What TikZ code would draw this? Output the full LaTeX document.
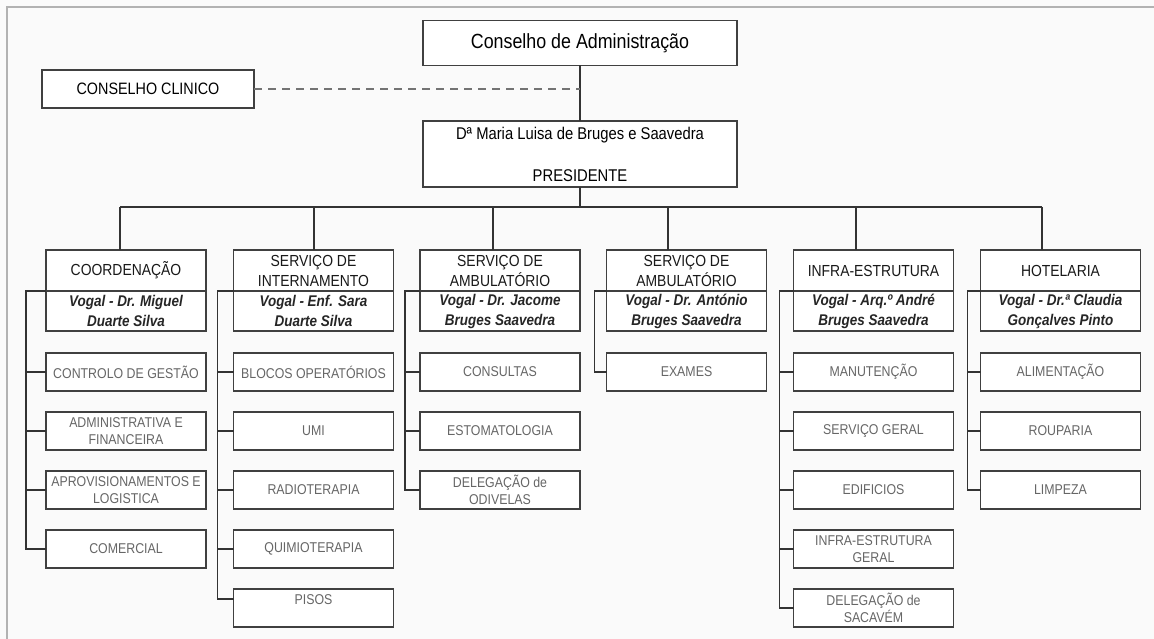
\documentclass[tikz,border=0pt]{standalone}
\usepackage{fontspec}
\setmainfont{Liberation Sans}[FakeStretch=0.87]
\usetikzlibrary{positioning}

\tikzset{
  box/.style={draw=black!75, line width=1.3pt, fill=white, inner sep=1pt, outer sep=0pt, align=center},
  headbox/.style={box, minimum width=160pt, minimum height=41pt, text=black!90, font=\fontsize{16}{20}\selectfont},
  vogalbox/.style={box, minimum width=160pt, minimum height=40pt, text=black!85, font=\fontsize{15.5}{20}\selectfont\bfseries\itshape},
  subbox/.style={box, minimum width=160pt, minimum height=38pt, text=black!60, font=\fontsize{14.2}{17.5}\selectfont},
  link/.style={draw=black!80, line width=1.6pt},
  frame/.style={draw=black!30, line width=2pt},
}

\begin{document}
\begin{tikzpicture}[x=1pt, y=-1pt]
\useasboundingbox[fill=black!2] (0,0) rectangle (1154,639);
\draw[frame] (7,639) -- (7,7) -- (1154,7);

% board and president
\node[box, minimum width=314pt, minimum height=45pt, font=\fontsize{20.5}{22}\selectfont] (cons) at (580,43) {Conselho de Administração};
\node[box, minimum width=212pt, minimum height=38pt, font=\fontsize{16.5}{18}\selectfont] (clin) at (148,89) {CONSELHO CLINICO};
\node[box, minimum width=314pt, minimum height=66pt, font=\fontsize{17}{20}\selectfont] (pres) at (580,154) {Dª Maria Luisa de Bruges e Saavedra\\[22pt]PRESIDENTE};
\coordinate (jn) at (cons.south |- clin.east);
\draw[link] (cons) -- (pres);
\draw[draw=black!55, line width=1.2pt, dash pattern=on 8pt off 6pt] (clin.east) -- (jn);

% column 1
\node[headbox, anchor=north] (h1) at (126,250) {COORDENAÇÃO};
\node[vogalbox, below=0pt of h1] (v1) {Vogal - Dr. Miguel\\Duarte Silva};
\node[subbox, below=22pt of v1] (c11) {CONTROLO DE GESTÃO};
\node[subbox, below=21pt of c11] (c12) {ADMINISTRATIVA E\\FINANCEIRA};
\node[subbox, below=21pt of c12] (c13) {APROVISIONAMENTOS E\\LOGISTICA};
\node[subbox, below=21pt of c13] (c14) {COMERCIAL};

% column 2
\node[headbox, anchor=north] (h2) at (313.5,250) {SERVIÇO DE\\INTERNAMENTO};
\node[vogalbox, below=0pt of h2] (v2) {Vogal - Enf. Sara\\Duarte Silva};
\node[subbox, below=22pt of v2] (c21) {BLOCOS OPERATÓRIOS};
\node[subbox, below=21pt of c21] (c22) {UMI};
\node[subbox, below=21pt of c22] (c23) {RADIOTERAPIA};
\node[subbox, below=21pt of c23] (c24) {QUIMIOTERAPIA};
\node[subbox, below=21pt of c24] (c25) {PISOS\\\mbox{}};

% column 3
\node[headbox, anchor=north] (h3) at (500,250) {SERVIÇO DE\\AMBULATÓRIO};
\node[vogalbox, below=0pt of h3] (v3) {Vogal - Dr. Jacome\\Bruges Saavedra};
\node[subbox, below=22pt of v3] (c31) {CONSULTAS};
\node[subbox, below=21pt of c31] (c32) {ESTOMATOLOGIA};
\node[subbox, below=21pt of c32] (c33) {DELEGAÇÃO de\\ODIVELAS};

% column 4
\node[headbox, anchor=north] (h4) at (686.5,250) {SERVIÇO DE\\AMBULATÓRIO};
\node[vogalbox, below=0pt of h4] (v4) {Vogal - Dr. António\\Bruges Saavedra};
\node[subbox, below=22pt of v4] (c41) {EXAMES};

% column 5
\node[headbox, anchor=north] (h5) at (873.5,250) {INFRA-ESTRUTURA};
\node[vogalbox, below=0pt of h5] (v5) {Vogal - Arq.º André\\Bruges Saavedra};
\node[subbox, below=22pt of v5] (c51) {MANUTENÇÃO};
\node[subbox, below=21pt of c51] (c52) {SERVIÇO GERAL};
\node[subbox, below=21pt of c52] (c53) {EDIFICIOS};
\node[subbox, below=21pt of c53] (c54) {INFRA-ESTRUTURA\\GERAL};
\node[subbox, below=21pt of c54] (c55) {DELEGAÇÃO de\\SACAVÉM};

% column 6
\node[headbox, anchor=north] (h6) at (1060.5,250) {HOTELARIA};
\node[vogalbox, below=0pt of h6] (v6) {Vogal - Dr.ª Claudia\\Gonçalves Pinto};
\node[subbox, below=22pt of v6] (c61) {ALIMENTAÇÃO};
\node[subbox, below=21pt of c61] (c62) {ROUPARIA};
\node[subbox, below=21pt of c62] (c63) {LIMPEZA};

% bus and drops
\coordinate (d1) at (120,207);
\coordinate (d2) at (314,207);
\coordinate (d3) at (493,207);
\coordinate (d4) at (668,207);
\coordinate (d5) at (856,207);
\coordinate (d6) at (1042,207);
\draw[link] (pres.south) -- (pres.south |- d1);
\draw[link] (d1) -- (d6);
\foreach \d/\h in {d1/h1, d2/h2, d3/h3, d4/h4, d5/h5, d6/h6}
  \draw[link] (\d) -- (\d |- \h.north);

% spines
\coordinate (s1) at ([xshift=-20pt]v1.north west);
\coordinate (s2) at ([xshift=-16pt]v2.north west);
\coordinate (s3) at ([xshift=-15pt]v3.north west);
\coordinate (s4) at ([xshift=-12pt]v4.north west);
\coordinate (s5) at ([xshift=-14pt]v5.north west);
\coordinate (s6) at ([xshift=-13pt]v6.north west);
\draw[link] (v1.north west) -- (s1) |- (c14.west);
\draw[link] (v2.north west) -- (s2) |- ([yshift=9pt]c25.west);
\draw[link] (v3.north west) -- (s3) |- (c33.west);
\draw[link] (v4.north west) -- (s4) |- (c41.west);
\draw[link] (v5.north west) -- (s5) |- (c55.west);
\draw[link] (v6.north west) -- (s6) |- (c63.west);
\foreach \s/\c in {s1/c11, s1/c12, s1/c13, s2/c21, s2/c22, s2/c23, s2/c24,
  s3/c31, s3/c32, s5/c51, s5/c52, s5/c53, s5/c54, s6/c61, s6/c62}
  \draw[link] (\s |- \c.west) -- (\c.west);
\end{tikzpicture}
\end{document}
